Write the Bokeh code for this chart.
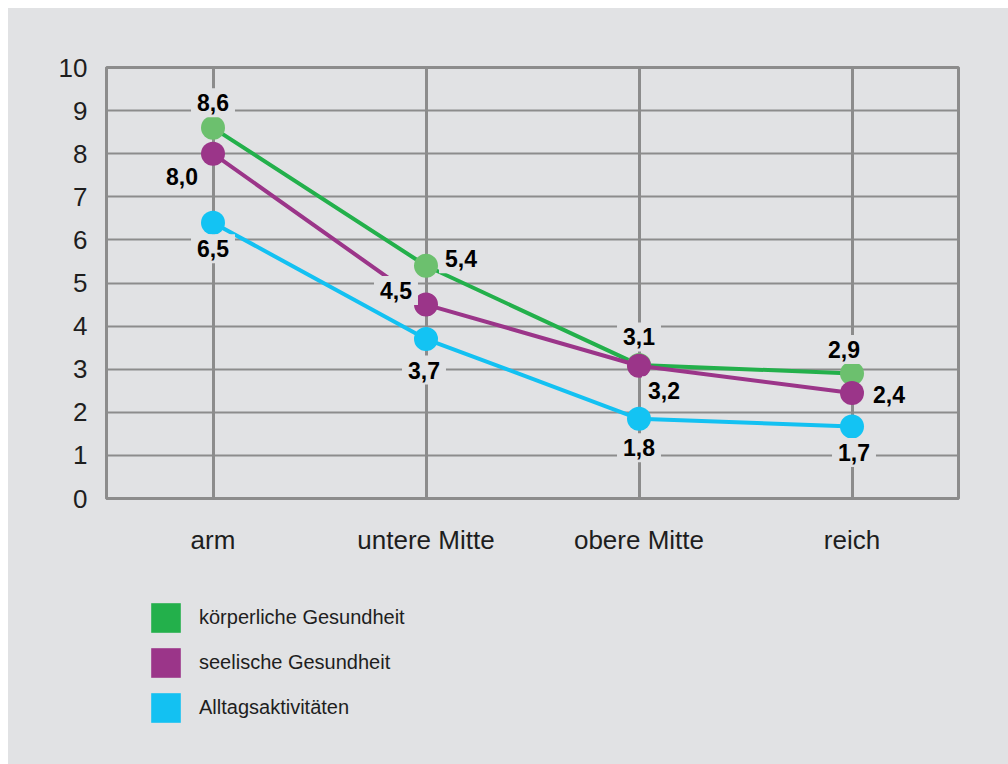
from bokeh.plotting import figure
from bokeh.models import FactorRange, Range1d, FixedTicker, Legend, LegendItem, ColumnDataSource
from bokeh.layouts import column
from bokeh.core.properties import value
from bokeh.embed import file_html
from bokeh.resources import INLINE

# ---- data ----
categories = ["arm", "untere Mitte", "obere Mitte", "reich"]
koerper = [8.6, 5.4, 3.1, 2.9]
seele = [8.0, 4.5, 3.08, 2.45]
alltag = [6.4, 3.7, 1.85, 1.67]
koerper_labels = ["8,6", "5,4", "3,1", "2,9"]
seele_labels = ["8,0", "4,5", "3,2", "2,4"]
alltag_labels = ["6,5", "3,7", "1,8", "1,7"]
series_names = ["körperliche Gesundheit", "seelische Gesundheit", "Alltagsaktivitäten"]
y_ticks = list(range(0, 11))

# ---- styling / placement ----
BG = "#e1e2e4"
GRID = "#8c8c8c"
line_colors = ["#23b04b", "#9b3589", "#13c1f2"]
dot_colors = ["#6cc06e", "#9b3589", "#13c3f3"]
label_dx = [[0, 35, 0, -8], [-31, -30, 25, 37], [0, -2, 0, 2]]
label_dy = [[-25, -7, -28, -24], [23, -14, 25, 2], [26, 31, 29, 26]]

p = figure(width=1000, height=580, x_range=FactorRange(factors=categories, range_padding=0),
           y_range=Range1d(0, 10), output_backend="svg", toolbar_location=None,
           min_border_left=98, min_border_right=50, min_border_top=59, min_border_bottom=90)
p.background_fill_color = BG
p.border_fill_color = BG
p.outline_line_color = GRID
p.outline_line_width = 3

p.xgrid.grid_line_color = GRID
p.xgrid.grid_line_width = 3
p.ygrid.grid_line_color = GRID
p.ygrid.grid_line_width = 2

p.yaxis.ticker = FixedTicker(ticks=y_ticks)
for ax in (p.xaxis, p.yaxis):
    ax.axis_line_color = GRID
    ax.axis_line_width = 3
    ax.major_tick_line_color = None
    ax.minor_tick_line_color = None
    ax.major_tick_in = 0
    ax.major_tick_out = 0
    ax.major_label_text_font = "Liberation Sans"
    ax.major_label_text_color = "#1e1e1e"
p.yaxis.major_label_text_font_size = "26px"
p.yaxis.major_label_standoff = 19
p.xaxis.major_label_text_font_size = "26px"
p.xaxis.major_label_standoff = 26

all_vals = [koerper, seele, alltag]
all_labels = [koerper_labels, seele_labels, alltag_labels]

for i in range(3):
    src = ColumnDataSource(dict(x=categories, y=all_vals[i]))
    p.line("x", "y", source=src, line_color=line_colors[i], line_width=4)
    p.scatter("x", "y", source=src, size=24, fill_color=dot_colors[i], line_color=None)

for i in range(3):
    lsrc = ColumnDataSource(dict(x=categories, y=all_vals[i], t=all_labels[i],
                                 dx=label_dx[i], dy=label_dy[i]))
    p.text("x", "y", text="t", source=lsrc, x_offset="dx", y_offset="dy",
           text_font=value("Liberation Sans"), text_font_style="bold", text_font_size="23px",
           text_color="#000000", text_align="center", text_baseline="middle",
           background_fill_color=BG, padding=6)

# legend panel (separate figure so that it is not clipped)
leg = figure(width=1000, height=176, x_range=Range1d(0, 1), y_range=Range1d(0, 1),
             output_backend="svg", toolbar_location=None, x_axis_type=None, y_axis_type=None,
             min_border_left=98, min_border_right=50, min_border_top=0, min_border_bottom=0)
leg.background_fill_alpha = 0
leg.border_fill_color = BG
leg.outline_line_color = None
leg.xgrid.visible = False
leg.ygrid.visible = False

legend_items = []
for i in range(3):
    # swatch renderers sit outside the visible range; only their legend squares show
    r = leg.quad(left=[5], right=[6], top=[6], bottom=[5], fill_color=line_colors[i], line_color=None)
    legend_items.append(LegendItem(label=series_names[i], renderers=[r]))

legend = Legend(items=legend_items, location=(41, 38), glyph_width=37, glyph_height=37,
                spacing=8, label_standoff=15, padding=0, margin=0,
                background_fill_alpha=0, border_line_color=None,
                label_text_font="Liberation Sans", label_text_font_size="20px",
                label_text_color="#1e1e1e")
leg.add_layout(legend, "center")

layout = column(p, leg, spacing=0)
layout.margin = (8, 0, 0, 8)
layout.styles = {"background-color": BG}

open("out.html", "w").write(file_html(layout, INLINE))
